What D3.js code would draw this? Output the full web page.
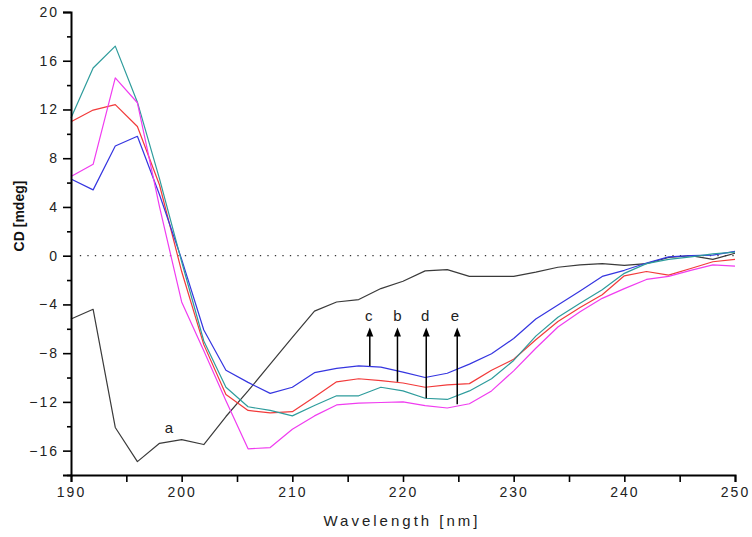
<!DOCTYPE html>
<html><head><meta charset="utf-8">
<script src="https://cdn.jsdelivr.net/npm/d3@7"></script>
<style>
html,body{margin:0;padding:0;background:#fff;}
svg text{font-family:"Liberation Sans",Arial,sans-serif;}
</style></head>
<body><svg id="c" width="752" height="537"></svg>
<script>
const wavelengths = d3.range(190, 251, 2);
const curveA = [-5.2,-4.4,-14.1,-16.9,-15.4,-15.1,-15.5,-13.2,-11.1,-8.9,-6.7,-4.55,-3.8,-3.6,-2.7,-2.1,-1.25,-1.15,-1.7,-1.7,-1.7,-1.35,-0.95,-0.75,-0.65,-0.8,-0.65,-0.15,0.0,-0.3,0.2];
const curveB = [11.0,11.95,12.4,10.6,5.8,-1.3,-7.3,-11.4,-12.7,-12.9,-12.8,-11.6,-10.35,-10.1,-10.25,-10.45,-10.8,-10.6,-10.5,-9.4,-8.5,-6.9,-5.4,-4.25,-3.2,-1.65,-1.3,-1.6,-1.05,-0.5,-0.3];
const curveC = [6.3,5.4,9.0,9.8,5.0,-0.3,-6.1,-9.4,-10.4,-11.3,-10.8,-9.6,-9.25,-9.05,-9.15,-9.55,-10.0,-9.65,-8.9,-8.05,-6.8,-5.2,-4.05,-2.9,-1.7,-1.2,-0.6,-0.1,0.0,0.05,0.35];
const curveD = [11.3,15.4,17.2,12.6,6.3,-0.5,-7.0,-10.8,-12.4,-12.7,-13.15,-12.3,-11.5,-11.5,-10.8,-11.1,-11.7,-11.8,-11.1,-10.1,-8.6,-6.6,-5.05,-3.9,-2.8,-1.45,-0.65,-0.3,-0.1,0.15,0.3];
const curveE = [6.5,7.5,14.6,12.55,4.0,-3.8,-7.8,-11.9,-15.85,-15.75,-14.25,-13.15,-12.25,-12.1,-12.05,-12.0,-12.3,-12.5,-12.15,-11.1,-9.45,-7.6,-5.85,-4.6,-3.5,-2.7,-1.95,-1.7,-1.2,-0.75,-0.85];
const seriesNames = ["a","b","c","d","e"];
const seriesColors = ["#3a3a3a","#f23a3a","#3535e0","#2e9c9c","#f03cf0"];
const xTicks = [190,200,210,220,230,240,250];
const yTicks = [-16,-12,-8,-4,0,4,8,12,16,20];
// arrow annotations
const arrowLabels = ["c","b","d","e"];
const arrowWl = [217.0,219.5,222.1,224.9];
const arrowFrom = [-9.06,-10.35,-11.7,-12.2];
const arrowTo = -5.9;
const labelWl = [216.9,219.5,222.0,224.7];
const labelVal = -5.35;
const labelAWl = 198.85, labelAVal = -14.55;

const svg = d3.select("#c");
const x = d3.scaleLinear().domain([190,250]).range([71,735]);
const y = d3.scaleLinear().domain([-18,20]).range([475,12]);

// zero dotted line
svg.append("line").attr("x1", x(190.8)).attr("x2", x(250)).attr("y1", y(0)).attr("y2", y(0))
  .attr("stroke","#333").attr("stroke-width",1.3).attr("stroke-dasharray","1.3,6.2");

// curves
const series = [curveA, curveB, curveC, curveD, curveE];
const line = d3.line().x((d,i)=>x(wavelengths[i])).y(d=>y(d));
series.forEach((s,k)=>{
  svg.append("path").datum(s).attr("d", line).attr("fill","none")
    .attr("stroke", seriesColors[k]).attr("stroke-width",1.2).attr("stroke-linejoin","round");
});

// axes
const xAxis = d3.axisBottom(x).tickValues(xTicks).tickSize(7).tickPadding(5).tickFormat(d3.format("d"));
const gx = svg.append("g").attr("transform",`translate(0,${y(-18)})`).call(xAxis);
const xMinor = d3.axisBottom(x).tickValues([195,205,215,225,235,245]).tickSize(7).tickFormat("");
svg.append("g").attr("transform",`translate(0,${y(-18)})`).call(xMinor).select(".domain").remove();
const yAxis = d3.axisLeft(y).tickValues(yTicks).tickSize(8).tickPadding(6).tickFormat(d3.format("d"));
const gy = svg.append("g").attr("transform",`translate(${x(190)},0)`).call(yAxis);
const yMinor = d3.axisLeft(y).tickValues(d3.range(-18,20,4)).tickSize(4).tickFormat("");
svg.append("g").attr("transform",`translate(${x(190)},0)`).call(yMinor).select(".domain").remove();

svg.selectAll(".domain").attr("stroke","#000").attr("stroke-width",2);
svg.selectAll(".tick line").attr("stroke","#000").attr("stroke-width",1.6);
svg.selectAll(".tick text").attr("font-size",14).attr("letter-spacing","2px").attr("fill","#222")
  .attr("font-family","Liberation Sans, Arial, sans-serif");
gy.selectAll(".tick text").attr("dx","2px");

// axis titles
svg.append("text").attr("x",402).attr("y",526).attr("text-anchor","middle")
  .attr("font-size",15).attr("letter-spacing","3px").attr("fill","#222").text("Wavelength [nm]");
svg.append("text").attr("transform","translate(24,216) rotate(-90)").attr("text-anchor","middle")
  .attr("font-size",14).attr("font-weight","bold").attr("fill","#111").text("CD [mdeg]");

// arrows
arrowWl.forEach((w,i)=>{
  svg.append("line").attr("x1",x(w)).attr("x2",x(w)).attr("y1",y(arrowFrom[i])).attr("y2",y(arrowTo)+6)
    .attr("stroke","#000").attr("stroke-width",1.5);
  const tx = x(w), ty = y(arrowTo);
  svg.append("path").attr("d",`M${tx},${ty} L${tx-3.5},${ty+9} L${tx+3.5},${ty+9} Z`).attr("fill","#000");
  svg.append("text").attr("x",x(labelWl[i])).attr("y",y(labelVal)).attr("text-anchor","middle")
    .attr("font-size",15).attr("fill","#222").text(arrowLabels[i]);
});
svg.append("text").attr("x",x(labelAWl)).attr("y",y(labelAVal)).attr("text-anchor","middle")
  .attr("font-size",15).attr("fill","#222").text(seriesNames[0]);
</script></body></html>
